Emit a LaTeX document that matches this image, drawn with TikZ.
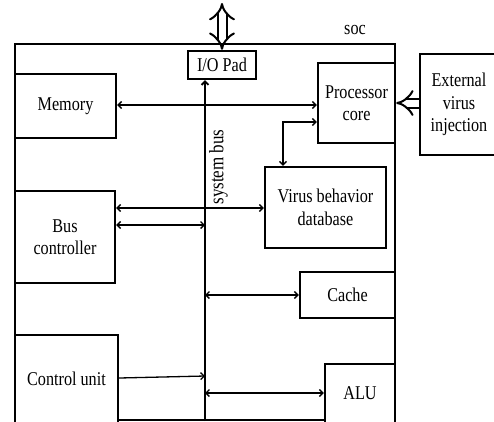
\documentclass[tikz,border=0pt]{standalone}
\usepackage{fontspec}
\setmainfont{Liberation Serif}[FakeStretch=0.83]
\usetikzlibrary{arrows.meta}
\begin{document}
\begin{tikzpicture}[x=1pt,y=-1pt,
  box/.style={draw, line width=2.4pt, align=center, inner sep=0pt, font=\fontsize{19.5}{22.5}\selectfont},
  conn/.style={line width=1.3pt, {Straight Barb[length=3.5pt,width=7pt]}-{Straight Barb[length=3.5pt,width=7pt]}},
  oneway/.style={line width=1.3pt, -{Straight Barb[length=3.5pt,width=7pt]}},
  hollow/.style={line width=2pt, double distance=7pt, -{Implies}},
  lbl/.style={inner sep=0pt, font=\fontsize{19.5}{22.5}\selectfont}]
\useasboundingbox (0,0) rectangle (494,421);
% SoC outline
\draw[line width=2pt] (15,44) rectangle (395,420);
\node[lbl] (soc) at (355,30) {soc};
% blocks
\node[box, fill=white, minimum width=101, minimum height=64] (mem) at (65.5,106) {Memory};
\node[box, fill=white, minimum width=68, minimum height=28] (io) at (222,65) {I/O Pad};
\node[box, fill=white, minimum width=77, minimum height=80] (proc) at (356.5,103) {Processor\\core};
\node[box, fill=white, minimum width=78, minimum height=101] (ext) at (459,104.5) {External\\virus\\injection};
\node[box, fill=white, minimum width=121, minimum height=81] (vir) at (325.5,207.5) {Virus behavior\\database};
\node[box, fill=white, minimum width=100, minimum height=92] (bc) at (65,237) {Bus\\controller};
\node[box, fill=white, minimum width=95, minimum height=46] (cache) at (347.5,295) {Cache};
\node[box, fill=white, minimum width=103, minimum height=88] (cu) at (66.5,379) {Control unit};
\node[box, fill=white, minimum width=70, minimum height=59] (alu) at (360,393.5) {ALU};
% system bus
\coordinate (busbot) at (205,421);
\coordinate (iotop) at (222,3);
\draw[oneway, line width=1.8pt] (busbot) -- (io.south -| busbot);
\node[lbl, rotate=90, font=\fontsize{20.5}{22}\selectfont] (sysbus) at (218.5,167) {system bus};
% external connections
\draw[hollow, {Implies}-{Implies}] (io.north) -- (iotop);
\draw[hollow] (ext.west |- proc.east) -- (proc.east);
% internal connectors
\coordinate (pv) at (283,122);
\draw[conn] (mem.east |- 0,105) -- (proc.west |- 0,105);
\draw[conn] (vir.north -| pv) -- (pv) -- (proc.west |- pv);
\draw[conn] (bc.east |- 0,208) -- (vir.west |- 0,208);
\draw[conn] (bc.east |- 0,225) -- (busbot |- 0,225);
\draw[conn] (busbot |- cache.west) -- (cache.west);
\draw[oneway] (cu.east |- 0,378) -- (busbot |- 0,376);
\draw[conn] (busbot |- 0,393) -- (alu.west |- 0,393);
\end{tikzpicture}
\end{document}
